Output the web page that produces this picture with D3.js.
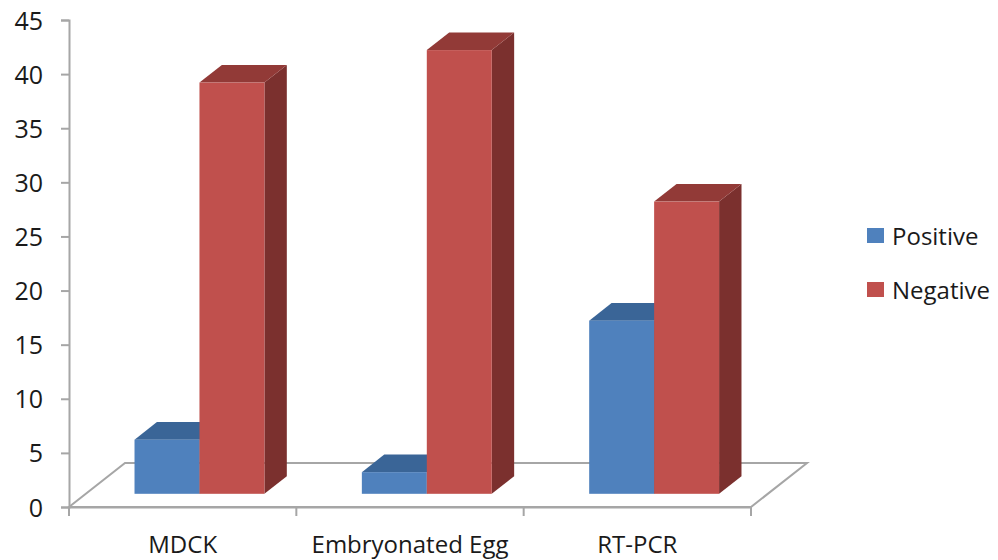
<!DOCTYPE html>
<html>
<head>
<meta charset="utf-8">
<script src="https://cdn.jsdelivr.net/npm/d3@7"></script>
<style>
  body { margin: 0; background: #fff; }
  text { font-family: "Open Sans", "Noto Sans", sans-serif; fill: #1a1a1a; }
</style>
</head>
<body>
<script>
const width = 998;
const height = 560;

// chart data
const categories = ["MDCK", "Embryonated Egg", "RT-PCR"];
const seriesNames = ["Positive", "Negative"];
const positive = [5, 2, 16];
const negative = [38, 41, 27];
const yTicks = [0, 5, 10, 15, 20, 25, 30, 35, 40, 45];

const colors = {
  Positive: { front: "#4F81BD", top: "#3A6597", side: "#2F5580" },
  Negative: { front: "#C0504D", top: "#923A37", side: "#7B302E" }
};

// floor geometry (front-left origin + depth vector)
const x0 = 69, x1 = 751, y0 = 507;
const depth = { dx: 56, dy: -44 };
const barFront = 0.3, barBack = 0.7;

const svg = d3.select("body").append("svg")
  .attr("width", width)
  .attr("height", height);

const y = d3.scaleLinear().domain([0, 45]).range([y0, 20]);

const x = d3.scaleBand().domain(categories).range([x0, x1]).paddingInner(0).paddingOuter(0);
const xSub = d3.scaleBand().domain(seriesNames).range([0, x.bandwidth()]).paddingOuter(0.75);

// floor
const fl = [[x0, y0], [x1, y0], [x1 + depth.dx, y0 + depth.dy], [x0 + depth.dx, y0 + depth.dy]];
svg.append("path")
  .attr("d", "M" + fl.map(p => p.join(",")).join("L") + "Z")
  .attr("fill", "none")
  .attr("stroke", "#a6a6a6")
  .attr("stroke-width", 2);

// y axis
const yAxis = svg.append("g")
  .attr("transform", `translate(${x0},0)`)
  .call(d3.axisLeft(y).tickValues(yTicks).tickSize(8).tickPadding(18));
yAxis.select(".domain").attr("stroke", "#a6a6a6").attr("stroke-width", 2);
yAxis.selectAll(".tick line").attr("stroke", "#a6a6a6").attr("stroke-width", 2);
yAxis.selectAll(".tick text")
  .style("font-size", "25px")
  .attr("fill", "#1a1a1a")
  .attr("dy", "0.36em");

// x axis
const xAxis = svg.append("g")
  .attr("transform", `translate(0,${y0})`)
  .call(d3.axisBottom(x).tickSize(0).tickPadding(29));
xAxis.select(".domain").attr("stroke", "#a6a6a6").attr("stroke-width", 2);
xAxis.selectAll(".tick text").style("font-size", "24px").attr("fill", "#1a1a1a");
svg.append("g").selectAll("line")
  .data(d3.range(categories.length + 1))
  .enter().append("line")
  .attr("x1", i => x0 + i * x.step())
  .attr("x2", i => x0 + i * x.step())
  .attr("y1", y0)
  .attr("y2", y0 + 9)
  .attr("stroke", "#a6a6a6")
  .attr("stroke-width", 2);

// bars, drawn left to right so each red bar covers its blue neighbour's side
const bars = [];
categories.forEach((c, i) => {
  seriesNames.forEach(s => {
    const v = s === "Positive" ? positive[i] : negative[i];
    bars.push({ cat: c, series: s, value: v });
  });
});

const fx = barFront * depth.dx, fy = barFront * depth.dy;
const bdx = (barBack - barFront) * depth.dx, bdy = (barBack - barFront) * depth.dy;

const g = svg.append("g");
bars.forEach(d => {
  const left = x(d.cat) + xSub(d.series) + fx;
  const right = left + xSub.bandwidth();
  const base = y(0) + fy;
  const top = y(d.value) + fy;
  const col = colors[d.series];
  // side
  g.append("path")
    .attr("d", `M${right},${base}L${right + bdx},${base + bdy}L${right + bdx},${top + bdy}L${right},${top}Z`)
    .attr("fill", col.side);
  // top
  g.append("path")
    .attr("d", `M${left},${top}L${right},${top}L${right + bdx},${top + bdy}L${left + bdx},${top + bdy}Z`)
    .attr("fill", col.top);
  // front
  g.append("rect")
    .attr("x", left)
    .attr("y", top)
    .attr("width", right - left)
    .attr("height", base - top)
    .attr("fill", col.front);
});

// legend
const legend = svg.append("g").attr("transform", "translate(867,228)");
seriesNames.forEach((s, i) => {
  const row = legend.append("g").attr("transform", `translate(0,${i * 54})`);
  row.append("rect")
    .attr("width", 17)
    .attr("height", 15)
    .attr("fill", colors[s].front);
  row.append("text")
    .attr("x", 25)
    .attr("y", 8)
    .attr("dy", "0.36em")
    .style("font-size", "24px")
    .text(s);
});
</script>
</body>
</html>
